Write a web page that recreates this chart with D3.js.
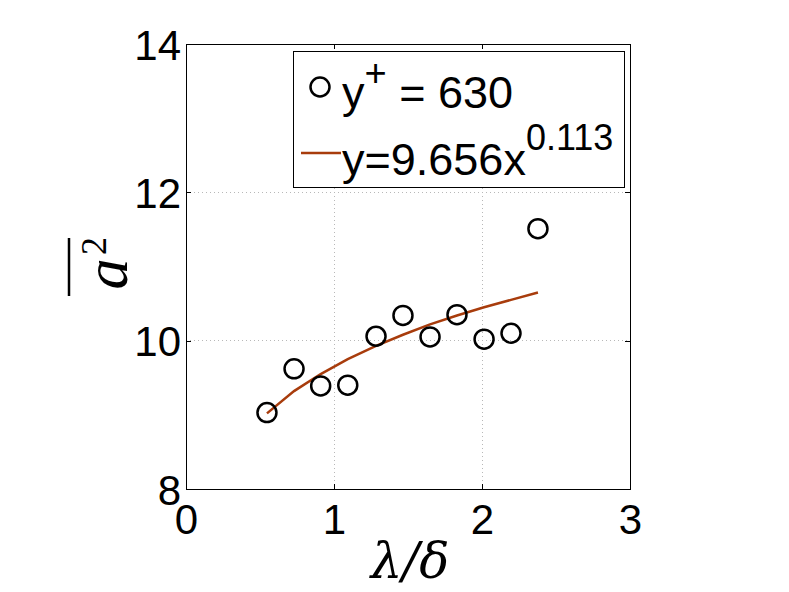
<!DOCTYPE html>
<html>
<meta charset="utf-8">
<head>
<style>
body {
    margin: 0;
    background: #fff;
}
svg text {
    font-family: "Liberation Sans", Arial, sans-serif;
    fill: #000;
}
.axis path,
.axis line {
    fill: none;
    stroke: #000;
    stroke-width: 1;
    shape-rendering: crispEdges;
}
.grid line {
    stroke: #b8b8b8;
    stroke-width: 1;
    stroke-dasharray: 1,3;
    shape-rendering: crispEdges;
}
</style>
<script src="https://d3js.org/d3.v7.min.js"></script>
</head>
<body>
<script type="text/javascript">
// lambda/delta values and mean a^2
var xVals = [0.547, 0.730, 0.910, 1.093, 1.284, 1.466, 1.649, 1.831, 2.014, 2.196, 2.378];
var yVals = [9.03, 9.62, 9.39, 9.40, 10.06, 10.34, 10.05, 10.35, 10.02, 10.10, 11.51];
// fitted curve y=9.656x^0.113 as drawn at the same x positions
var fitVals = [9.02, 9.32, 9.55, 9.75, 9.93, 10.08, 10.22, 10.34, 10.45, 10.55, 10.65];
var xTicks = [0, 1, 2, 3];
var yTicks = [8, 10, 12, 14];
var legendLabels = ["y", "y=9.656x"];

var W = 789, H = 592;
var margin = {top: 44, right: 159, bottom: 103, left: 186},
    width = W - margin.left - margin.right,
    height = H - margin.top - margin.bottom;

var x = d3.scaleLinear().domain([0, 3]).range([0, width]);
var y = d3.scaleLinear().domain([8, 14]).range([height, 0]);

var svg = d3.select("body").append("svg")
    .attr("width", W)
    .attr("height", H);

var g = svg.append("g")
    .attr("transform", "translate(" + margin.left + "," + margin.top + ")");

// dotted grid
var grid = g.append("g").attr("class", "grid");
grid.selectAll(".gx")
    .data(xTicks.slice(1, -1))
  .enter().append("line")
    .attr("x1", function(d) { return x(d); })
    .attr("x2", function(d) { return x(d); })
    .attr("y1", 0)
    .attr("y2", height);
grid.selectAll(".gy")
    .data(yTicks.slice(1, -1))
  .enter().append("line")
    .attr("y1", function(d) { return y(d); })
    .attr("y2", function(d) { return y(d); })
    .attr("x1", 0)
    .attr("x2", width);

// axes with inward ticks on all four sides
var tl = 5;
var fmt = d3.format("d");
var xAxis = d3.axisBottom(x).tickValues(xTicks).tickFormat(fmt).tickSizeInner(-tl).tickSizeOuter(0);
var yAxis = d3.axisLeft(y).tickValues(yTicks).tickFormat(fmt).tickSizeInner(-tl).tickSizeOuter(0);

var gx = g.append("g")
    .attr("class", "x axis")
    .attr("transform", "translate(0," + height + ")")
    .call(xAxis);
gx.selectAll("text").attr("font-size", 42).attr("dy", "0.72em").attr("y", 15);

var gy = g.append("g")
    .attr("class", "y axis")
    .call(yAxis);
gy.selectAll("text").attr("font-size", 42).attr("dy", "0.36em").attr("x", -5);

g.append("g")
    .attr("class", "axis")
    .call(d3.axisTop(x).tickValues(xTicks).tickSizeInner(-tl).tickSizeOuter(0).tickFormat(""));
g.append("g")
    .attr("class", "axis")
    .attr("transform", "translate(" + width + ",0)")
    .call(d3.axisRight(y).tickValues(yTicks).tickSizeInner(-tl).tickSizeOuter(0).tickFormat(""));

g.append("rect")
    .attr("width", width)
    .attr("height", height)
    .attr("fill", "none")
    .attr("stroke", "#000")
    .attr("shape-rendering", "crispEdges");

// fit curve
var line = d3.line()
    .x(function(d, i) { return x(xVals[i]); })
    .y(function(d) { return y(d); });

g.append("path")
    .datum(fitVals)
    .attr("d", line)
    .attr("fill", "none")
    .attr("stroke", "#a83c0c")
    .attr("stroke-width", 2.5);

// data points
g.selectAll(".dot")
    .data(yVals)
  .enter().append("circle")
    .attr("cx", function(d, i) { return x(xVals[i]); })
    .attr("cy", function(d) { return y(d); })
    .attr("r", 9.5)
    .attr("fill", "none")
    .attr("stroke", "#000")
    .attr("stroke-width", 2.5);

// legend
var leg = svg.append("g");
leg.append("rect")
    .attr("x", 293.5).attr("y", 51.5)
    .attr("width", 331).attr("height", 136)
    .attr("fill", "#fff")
    .attr("stroke", "#000")
    .attr("stroke-width", 1);
leg.append("circle")
    .attr("cx", 320).attr("cy", 87)
    .attr("r", 9.5)
    .attr("fill", "none")
    .attr("stroke", "#000")
    .attr("stroke-width", 2.5);
leg.append("line")
    .attr("x1", 301).attr("x2", 341)
    .attr("y1", 153).attr("y2", 153)
    .attr("stroke", "#a83c0c")
    .attr("stroke-width", 2.5);

var t1 = leg.append("text").attr("x", 342).attr("y", 108).attr("font-size", 45);
t1.append("tspan").text(legendLabels[0]);
t1.append("tspan").attr("dy", -22).attr("font-size", 38).text("+");
t1.append("tspan").attr("dy", 22).text(" = 630");

var t2 = leg.append("text").attr("x", 342).attr("y", 175).attr("font-size", 45);
t2.append("tspan").text(legendLabels[1]);
t2.append("tspan").attr("dy", -25).attr("font-size", 36).text("0.113");

// axis labels (LaTeX style)
svg.append("text")
    .attr("x", margin.left + width / 2 + 2)
    .attr("y", 578)
    .attr("text-anchor", "middle")
    .attr("font-size", 50)
    .style("font-family", "'DejaVu Serif', 'Liberation Serif', serif")
    .style("font-style", "italic")
    .text("λ/δ");

var yl = svg.append("g")
    .attr("transform", "translate(126,267) rotate(-90)");
yl.append("text")
    .attr("x", -7).attr("y", 1)
    .attr("text-anchor", "middle")
    .attr("font-size", 62)
    .style("font-family", "'Liberation Serif', serif")
    .style("font-style", "italic")
    .text("a");
yl.append("text")
    .attr("x", 12).attr("y", -20)
    .attr("font-size", 36)
    .style("font-family", "'Liberation Serif', serif")
    .text("2");
yl.append("line")
    .attr("x1", -29).attr("x2", 29)
    .attr("y1", -57).attr("y2", -57)
    .attr("stroke", "#000")
    .attr("stroke-width", 2.5);
</script>
</body>
</html>
